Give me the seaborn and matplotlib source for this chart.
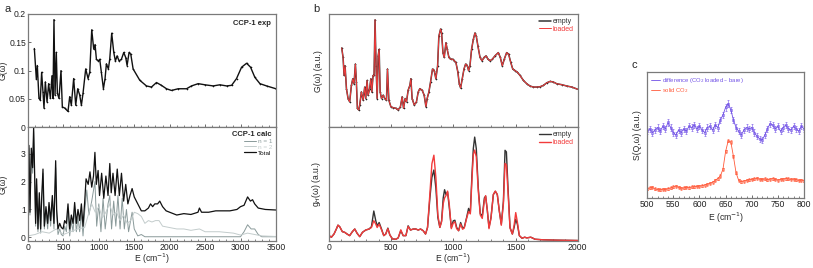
import matplotlib
matplotlib.use('Agg')
import matplotlib.pyplot as plt
import seaborn as sns
from matplotlib.ticker import MultipleLocator, NullFormatter

# ---- panel a, top: CCP-1 experimental G(w)
exp_e = [90, 118, 132, 155, 174, 193, 212, 226, 245, 269,
         292, 316, 339, 353, 367, 382, 400, 415, 438, 466,
         485, 518, 565, 589, 612, 645, 674, 702, 730, 754,
         777, 815, 848, 872, 900, 928, 947, 966, 994, 1013,
         1036, 1065, 1088, 1107, 1135, 1154, 1182, 1211, 1234, 1258,
         1286, 1319, 1352, 1380, 1399, 1427, 1451, 1484, 1578, 1672,
         1743, 1814, 1884, 1955, 2026, 2120, 2238, 2308, 2403, 2497,
         2615, 2709, 2803, 2874, 2944, 3015, 3086, 3142, 3203, 3274,
         3368, 3500]
exp_g = [0.139, 0.0855, 0.109, 0.051, 0.048, 0.097, 0.062, 0.034, 0.080, 0.045,
         0.077, 0.051, 0.091, 0.051, 0.190, 0.057, 0.132, 0.060, 0.051, 0.100,
         0.036, 0.034, 0.028, 0.054, 0.039, 0.086, 0.039, 0.068, 0.057, 0.039,
         0.060, 0.103, 0.086, 0.097, 0.172, 0.138, 0.146, 0.120, 0.117, 0.120,
         0.097, 0.068, 0.086, 0.112, 0.103, 0.120, 0.166, 0.132, 0.117, 0.126,
         0.117, 0.120, 0.132, 0.123, 0.109, 0.132, 0.129, 0.103, 0.083, 0.073,
         0.071, 0.079, 0.074, 0.068, 0.065, 0.068, 0.068, 0.073, 0.077, 0.075,
         0.073, 0.075, 0.073, 0.074, 0.086, 0.106, 0.113, 0.106, 0.088, 0.077,
         0.073, 0.068]

# ---- panel a, bottom: calculated G(w)
total_e = [0, 14, 28, 47, 66, 80, 94, 108, 122, 141,
           160, 179, 193, 212, 231, 254, 278, 297, 320, 344,
           367, 391, 405, 424, 448, 471, 495, 518, 542, 565,
           589, 612, 636, 659, 683, 706, 730, 754, 777, 800,
           820, 850, 875, 900, 925, 945, 965, 990, 1010, 1040,
           1070, 1100, 1130, 1155, 1175, 1200, 1230, 1260, 1290, 1320,
           1350, 1380, 1410, 1440, 1470, 1500, 1550, 1600, 1650, 1700,
           1730, 1760, 1790, 1830, 1860, 1900, 1950, 2000, 2100, 2200,
           2300, 2400, 2420, 2450, 2550, 2650, 2750, 2850, 2950, 3000,
           3050, 3100, 3140, 3170, 3200, 3250, 3350, 3500]
total_g = [0.2, 3.3, 0.9, 3.2, 2.5, 3.95, 2.3, 0.5, 2.1, 0.3,
           1.6, 0.3, 1.4, 2.45, 0.4, 1.1, 0.5, 1.25, 0.6, 1.5,
           0.5, 2.75, 1.0, 0.3, 0.5, 0.35, 0.3, 0.6, 0.5, 1.2,
           0.3, 0.8, 0.5, 1.25, 0.5, 1.0, 0.6, 1.2, 0.4, 1.25,
           2.1, 1.9, 2.35, 1.8, 2.2, 3.05, 1.9, 2.4, 1.5, 2.3,
           1.4, 2.2, 1.5, 2.65, 1.6, 2.3, 1.5, 2.45, 1.5, 2.3,
           1.3, 1.9, 1.2, 1.5, 1.75, 1.45, 1.2, 0.95, 0.95, 1.05,
           1.2, 1.1, 1.2, 1.2, 1.3, 1.1, 0.95, 0.9, 0.8, 0.85,
           0.82, 0.9, 1.05, 0.9, 0.9, 0.95, 0.95, 0.95, 1.0, 1.1,
           1.15, 1.45, 1.3, 1.35, 1.2, 1.05, 1.0, 0.98]

n1_e = [0, 14, 28, 47, 66, 80, 94, 108, 122, 141,
        160, 179, 193, 212, 231, 254, 278, 297, 320, 344,
        367, 391, 405, 424, 448, 471, 495, 518, 542, 565,
        589, 612, 636, 659, 683, 706, 730, 754, 777, 800,
        830, 860, 900, 945, 970, 1000, 1030, 1060, 1090, 1130,
        1155, 1180, 1210, 1240, 1270, 1300, 1330, 1360, 1390, 1420,
        1470, 1500, 1550, 1600, 1650, 2000, 2500, 3000, 3050, 3100,
        3150, 3200, 3250, 3300, 3500]
n1_g = [0.15, 3.2, 0.8, 3.0, 2.3, 3.8, 2.1, 0.4, 1.9, 0.2,
        1.4, 0.15, 1.2, 2.3, 0.3, 0.9, 0.3, 1.1, 0.4, 1.3,
        0.3, 2.5, 0.8, 0.1, 0.3, 0.1, 0.05, 0.4, 0.2, 1.0,
        0.05, 0.6, 0.2, 1.0, 0.2, 0.7, 0.2, 0.9, 0.05, 0.9,
        1.7, 0.8, 1.3, 2.0, 0.4, 1.2, 0.2, 1.4, 0.3, 1.2,
        1.5, 0.3, 1.3, 0.4, 1.5, 0.3, 1.4, 0.3, 1.0, 0.2,
        0.9, 0.3, 0.05, 0.1, 0.02, 0.02, 0.02, 0.02, 0.2, 0.45,
        0.3, 0.3, 0.1, 0.02, 0.02]

n2_e = [0, 100, 200, 300, 400, 500, 600, 700, 800, 850,
        900, 950, 1000, 1050, 1100, 1150, 1200, 1250, 1300, 1350,
        1400, 1450, 1500, 1550, 1600, 1650, 1700, 1750, 1800, 1850,
        1900, 2000, 2100, 2200, 2300, 2420, 2500, 2700, 2900, 3000,
        3100, 3200, 3300, 3500]
n2_g = [0.05, 0.1, 0.2, 0.15, 0.3, 0.1, 0.2, 0.3, 0.35, 0.8,
        1.2, 0.9, 1.1, 0.7, 0.9, 1.2, 0.8, 0.9, 0.6, 0.8,
        0.5, 0.6, 0.9, 0.85, 0.75, 0.5, 0.6, 0.55, 0.6, 0.6,
        0.4, 0.35, 0.3, 0.3, 0.25, 0.3, 0.2, 0.2, 0.15, 0.08,
        0.15, 0.1, 0.05, 0.03]

# ---- panel b, top: G(w) empty / loaded
b_top_e = [102, 113, 121, 129, 140, 153, 166, 180, 191, 201,
           212, 220, 228, 239, 247, 260, 274, 287, 295, 306,
           314, 327, 336, 344, 354, 362, 370, 378, 387, 395,
           403, 411, 422, 435, 448, 462, 470, 481, 497, 515,
           537, 556, 574, 588, 599, 612, 623, 636, 650, 658,
           668, 685, 703, 717, 730, 749, 765, 779, 789, 803,
           816, 832, 846, 859, 873, 883, 897, 905, 916, 926,
           940, 950, 964, 977, 993, 1007, 1020, 1036, 1047, 1058,
           1071, 1085, 1098, 1112, 1122, 1133, 1146, 1160, 1173, 1184,
           1197, 1214, 1230, 1246, 1262, 1278, 1294, 1313, 1334, 1361,
           1377, 1393, 1409, 1428, 1444, 1461, 1477, 1496, 1514, 1536,
           1563, 1590, 1616, 1643, 1670, 1697, 1724, 1751, 1778, 1804,
           1831, 1871, 1912, 1952, 2000]
b_top_empty = [0.700, 0.616, 0.457, 0.543, 0.341, 0.254, 0.225, 0.370, 0.428, 0.384,
               0.558, 0.399, 0.168, 0.153, 0.197, 0.312, 0.240, 0.355, 0.254, 0.413,
               0.283, 0.341, 0.428, 0.312, 0.457, 0.457, 0.948, 0.543, 0.254, 0.630,
               0.688, 0.312, 0.254, 0.283, 0.254, 0.240, 0.514, 0.240, 0.182, 0.173,
               0.168, 0.153, 0.182, 0.269, 0.168, 0.254, 0.225, 0.327, 0.370, 0.428,
               0.254, 0.197, 0.225, 0.312, 0.341, 0.327, 0.283, 0.182, 0.254, 0.312,
               0.399, 0.514, 0.500, 0.428, 0.543, 0.803, 0.867, 0.832, 0.659, 0.616,
               0.746, 0.688, 0.616, 0.601, 0.601, 0.587, 0.572, 0.486, 0.384, 0.347,
               0.428, 0.514, 0.558, 0.543, 0.500, 0.543, 0.688, 0.775, 0.832, 0.803,
               0.717, 0.616, 0.587, 0.616, 0.630, 0.601, 0.587, 0.601, 0.630, 0.659,
               0.616, 0.543, 0.601, 0.659, 0.645, 0.572, 0.514, 0.500, 0.486, 0.457,
               0.413, 0.384, 0.364, 0.355, 0.355, 0.358, 0.370, 0.393, 0.405, 0.399,
               0.384, 0.376, 0.364, 0.355, 0.335]
# the two measured traces coincide within the line width
b_top_loaded = list(b_top_empty)

# ---- panel b, bottom: g_H(w) empty / loaded
b_bot_e = [0, 19, 40, 59, 72, 86, 107, 126, 145, 166,
           188, 207, 226, 247, 269, 295, 322, 341, 360, 376,
           387, 403, 422, 440, 456, 473, 489, 510, 537, 556,
           577, 596, 618, 636, 655, 677, 698, 717, 736, 757,
           776, 792, 811, 827, 843, 859, 875, 891, 905, 918,
           929, 940, 953, 967, 983, 999, 1012, 1026, 1042, 1058,
           1074, 1087, 1106, 1122, 1136, 1149, 1160, 1171, 1184, 1200,
           1216, 1232, 1249, 1259, 1273, 1286, 1302, 1321, 1337, 1353,
           1369, 1385, 1402, 1415, 1426, 1439, 1455, 1474, 1488, 1501,
           1514, 1530, 1552, 1573, 1590, 1622, 1657, 1724, 1831, 2000]
b_bot_empty = [0.049, 0.035, 0.063, 0.107, 0.141, 0.127, 0.084, 0.078, 0.063, 0.049,
               0.084, 0.107, 0.069, 0.040, 0.078, 0.098, 0.107, 0.127, 0.265, 0.179,
               0.135, 0.164, 0.107, 0.049, 0.063, 0.115, 0.055, 0.020, 0.017, 0.029,
               0.092, 0.049, 0.049, 0.135, 0.098, 0.107, 0.107, 0.098, 0.107, 0.092,
               0.063, 0.121, 0.380, 0.560, 0.625, 0.467, 0.207, 0.121, 0.179, 0.380,
               0.452, 0.409, 0.432, 0.294, 0.121, 0.179, 0.184, 0.121, 0.092, 0.164,
               0.115, 0.121, 0.207, 0.288, 0.251, 0.582, 0.813, 0.914, 0.813, 0.467,
               0.242, 0.222, 0.380, 0.395, 0.265, 0.121, 0.207, 0.409, 0.438, 0.409,
               0.265, 0.150, 0.352, 0.798, 0.784, 0.467, 0.121, 0.063, 0.121, 0.193,
               0.150, 0.049, 0.026, 0.035, 0.029, 0.035, 0.017, 0.012, 0.009, 0.006]
b_bot_loaded = [0.049, 0.035, 0.063, 0.107, 0.141, 0.127, 0.084, 0.078, 0.063, 0.049,
                0.084, 0.107, 0.069, 0.040, 0.078, 0.098, 0.107, 0.120, 0.180, 0.150,
                0.120, 0.150, 0.100, 0.049, 0.063, 0.110, 0.055, 0.020, 0.017, 0.029,
                0.100, 0.049, 0.049, 0.130, 0.098, 0.107, 0.107, 0.098, 0.107, 0.092,
                0.063, 0.121, 0.420, 0.680, 0.755, 0.560, 0.230, 0.121, 0.170, 0.330,
                0.380, 0.400, 0.440, 0.320, 0.110, 0.160, 0.170, 0.110, 0.092, 0.150,
                0.105, 0.115, 0.200, 0.260, 0.240, 0.540, 0.760, 0.800, 0.740, 0.440,
                0.230, 0.200, 0.360, 0.400, 0.270, 0.110, 0.200, 0.410, 0.440, 0.410,
                0.265, 0.140, 0.330, 0.683, 0.670, 0.430, 0.115, 0.063, 0.140, 0.251,
                0.170, 0.049, 0.026, 0.035, 0.029, 0.035, 0.017, 0.012, 0.009, 0.006]

# ---- panel c: S(Q,w)
c_e = list(range(500, 801, 5))
c_diff = [0.53, 0.55, 0.52, 0.54, 0.56, 0.53, 0.57, 0.55, 0.60, 0.56,
          0.52, 0.50, 0.54, 0.52, 0.55, 0.53, 0.57, 0.56, 0.58, 0.55,
          0.57, 0.54, 0.52, 0.56, 0.57, 0.54, 0.58, 0.56, 0.62, 0.66,
          0.72, 0.75, 0.70, 0.62, 0.56, 0.53, 0.50, 0.54, 0.56, 0.55,
          0.56, 0.52, 0.49, 0.47, 0.46, 0.50, 0.55, 0.59, 0.58, 0.55,
          0.57, 0.53, 0.56, 0.58, 0.55, 0.54, 0.57, 0.55, 0.53, 0.57,
          0.55]
c_solid = [0.075, 0.080, 0.085, 0.072, 0.068, 0.065, 0.070, 0.068, 0.075, 0.080,
           0.088, 0.095, 0.085, 0.078, 0.080, 0.085, 0.082, 0.088, 0.090, 0.092,
           0.095, 0.098, 0.103, 0.110, 0.116, 0.125, 0.140, 0.155, 0.175, 0.230,
           0.370, 0.455, 0.445, 0.330, 0.200, 0.140, 0.130, 0.135, 0.140, 0.145,
           0.148, 0.152, 0.156, 0.150, 0.148, 0.152, 0.145, 0.150, 0.155, 0.148,
           0.142, 0.148, 0.150, 0.155, 0.152, 0.148, 0.150, 0.146, 0.140, 0.142,
           0.138]
c_diff_err = 0.025
c_solid_err = 0.012

sns.set_style("ticks")
plt.rcParams['font.family'] = ['Liberation Sans', 'DejaVu Sans']
plt.rcParams['mathtext.fontset'] = 'dejavusans'

FS = 6.2
SPINE = '#7a7a7a'
RED = '#f23b3b'
PURPLE = '#7050e6'
ORANGE = '#ff5a3a'


def style(ax, minor):
    for s in ax.spines.values():
        s.set_color(SPINE)
        s.set_linewidth(0.9)
    ax.tick_params(direction='in', labelsize=FS, length=2.5, width=0.5,
                   pad=1.5, colors='#333333', labelcolor='#222222')
    ax.tick_params(which='minor', direction='in', length=1.5, width=0.4)
    ax.xaxis.set_minor_locator(MultipleLocator(minor))


fig = plt.figure(figsize=(8.13, 2.68), dpi=100)

# panel a
ax_at = fig.add_axes([0.0344, 0.525, 0.305, 0.423])
ax_ab = fig.add_axes([0.0344, 0.1, 0.305, 0.425])

sns.lineplot(x=exp_e, y=exp_g, ax=ax_at, color='#111111', lw=1.0)
sns.scatterplot(x=exp_e, y=exp_g, ax=ax_at, color='#111111', marker='+',
                s=3, linewidth=0.4)
ax_at.set_xlim(0, 3500)
ax_at.set_ylim(0, 0.2)
ax_at.set_yticks([0, 0.05, 0.1, 0.15, 0.2])
ax_at.set_yticklabels(['0', '0.05', '0.1', '0.15', '0.2'])
ax_at.xaxis.set_major_locator(MultipleLocator(500))
ax_at.xaxis.set_major_formatter(NullFormatter())
ax_at.set_ylabel('G(ω)', fontsize=FS)
ax_at.yaxis.set_label_coords(-0.082, 0.5)
ax_at.text(0.98, 0.92, 'CCP-1 exp', transform=ax_at.transAxes, ha='right',
           va='center', fontsize=5.5, fontweight='bold')
style(ax_at, 100)

sns.lineplot(x=n1_e, y=n1_g, ax=ax_ab, color='#8a9a9a', lw=0.7, label='n = 1')
sns.lineplot(x=n2_e, y=n2_g, ax=ax_ab, color='#c3cccc', lw=0.7, label='n = 2')
sns.lineplot(x=total_e, y=total_g, ax=ax_ab, color='#111111', lw=0.9, label='Total')
ax_ab.set_xlim(0, 3500)
ax_ab.set_ylim(-0.14, 3.95)
ax_ab.set_yticks([0, 1, 2, 3])
ax_ab.xaxis.set_major_locator(MultipleLocator(500))
ax_ab.set_ylabel('G(ω)', fontsize=FS)
ax_ab.yaxis.set_label_coords(-0.082, 0.5)
ax_ab.set_xlabel('E (cm$^{-1}$)', fontsize=FS, labelpad=-0.5)
ax_ab.legend(title='CCP-1 calc', loc='upper right', frameon=False,
             fontsize=4.6, handlelength=1.8, handletextpad=0.3,
             labelspacing=0.05, borderaxespad=0.2, alignment='right',
             title_fontproperties={'weight': 'bold', 'size': 5.5},
             labelcolor='linecolor')
style(ax_ab, 100)

# panel b
ax_bt = fig.add_axes([0.4047, 0.525, 0.306, 0.423])
ax_bb = fig.add_axes([0.4047, 0.1, 0.306, 0.425])

sns.lineplot(x=b_top_e, y=b_top_empty, ax=ax_bt, color='#333333', lw=1.1, label='empty')
sns.lineplot(x=b_top_e, y=b_top_loaded, ax=ax_bt, color=RED, lw=0.7, label='loaded')
sns.scatterplot(x=b_top_e, y=b_top_empty, ax=ax_bt, color='#222222', marker='+',
                s=3, linewidth=0.4)
ax_bt.set_xlim(0, 2000)
ax_bt.set_ylim(0, 1)
ax_bt.set_yticks([])
ax_bt.xaxis.set_major_locator(MultipleLocator(500))
ax_bt.xaxis.set_major_formatter(NullFormatter())
ax_bt.set_ylabel('G(ω) (a.u.)', fontsize=FS, labelpad=4)
ax_bt.legend(loc='upper right', frameon=False, fontsize=5, handlelength=1.6,
             handletextpad=0.3, labelspacing=0.1, borderaxespad=0.2,
             labelcolor='linecolor')
style(ax_bt, 100)

sns.lineplot(x=b_bot_e, y=b_bot_empty, ax=ax_bb, color='#333333', lw=1.0, label='empty')
sns.lineplot(x=b_bot_e, y=b_bot_loaded, ax=ax_bb, color=RED, lw=1.0, label='loaded')
ax_bb.set_xlim(0, 2000)
ax_bb.set_ylim(0, 1)
ax_bb.set_yticks([])
ax_bb.xaxis.set_major_locator(MultipleLocator(500))
ax_bb.set_ylabel('g$_H$(ω) (a.u.)', fontsize=FS, labelpad=4)
ax_bb.set_xlabel('E (cm$^{-1}$)', fontsize=FS, labelpad=-0.5)
ax_bb.legend(loc='upper right', frameon=False, fontsize=5, handlelength=1.6,
             handletextpad=0.3, labelspacing=0.1, borderaxespad=0.2,
             labelcolor='linecolor')
style(ax_bb, 100)

# panel c
ax_c = fig.add_axes([0.796, 0.261, 0.193, 0.470])
sns.lineplot(x=c_e, y=c_diff, ax=ax_c, color=PURPLE, lw=0.6,
             label='difference (CO$_2$ loaded – bare)')
ax_c.errorbar(c_e, c_diff, yerr=c_diff_err, fmt='s', ms=1.8, mfc='none',
              mec=PURPLE, mew=0.4, ecolor=PURPLE, elinewidth=0.4, capsize=0.8)
sns.lineplot(x=c_e, y=c_solid, ax=ax_c, color=ORANGE, lw=0.6, label='solid CO$_2$')
ax_c.errorbar(c_e, c_solid, yerr=c_solid_err, fmt='s', ms=1.8, mfc='none',
              mec=ORANGE, mew=0.4, ecolor=ORANGE, elinewidth=0.4, capsize=0.8)
ax_c.set_xlim(500, 800)
ax_c.set_ylim(0, 1)
ax_c.set_yticks([])
ax_c.xaxis.set_major_locator(MultipleLocator(50))
ax_c.set_ylabel('S(Q,ω) (a.u.)', fontsize=FS, labelpad=4)
ax_c.set_xlabel('E (cm$^{-1}$)', fontsize=FS, labelpad=1)
ax_c.legend(loc='upper left', frameon=False, fontsize=4.2, handlelength=1.6,
            handletextpad=0.3, labelspacing=0.3, borderaxespad=0.2,
            labelcolor='linecolor')
style(ax_c, 10)

fig.text(0.006, 0.965, 'a', fontsize=8, va='center')
fig.text(0.385, 0.966, 'b', fontsize=8, va='center')
fig.text(0.777, 0.757, 'c', fontsize=8, va='center')

fig.savefig('out.png', dpi=100)
